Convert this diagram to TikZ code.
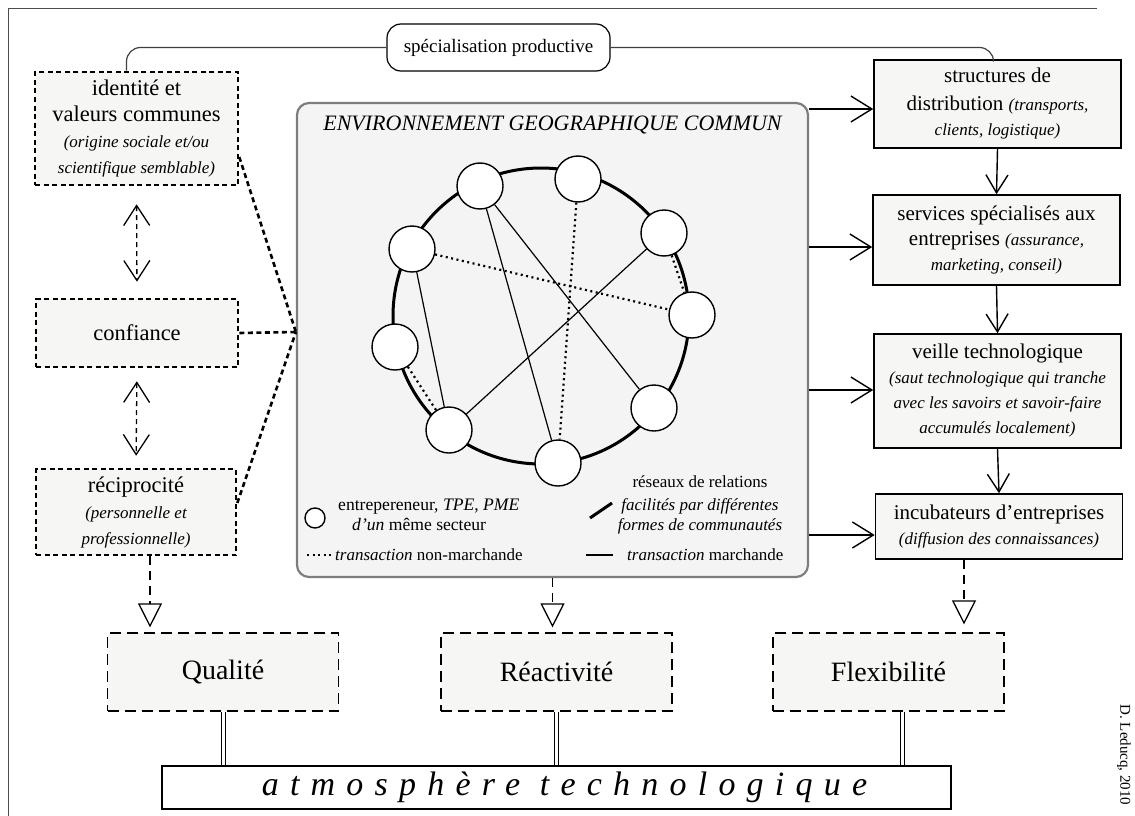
\documentclass[tikz,border=0pt]{standalone}
\usepackage{fontspec}
\setmainfont{Liberation Serif}
\usetikzlibrary{arrows.meta}
\definecolor{boxgray}{RGB}{246,246,244}
\definecolor{envgray}{RGB}{243,244,243}
\definecolor{envline}{RGB}{125,125,125}
\newcommand{\petit}[1]{{\itshape\fontsize{17}{20}\selectfont #1}}

\begin{document}
\begin{tikzpicture}[x=1pt, y=-1pt,
  every node/.style={font=\fontsize{21}{25}\selectfont},
  dotbox/.style={draw, fill=boxgray, line width=2.6pt, dash pattern=on 5pt off 3.5pt, align=center, minimum width=202pt, font=\fontsize{22.5}{26}\selectfont},
  solbox/.style={draw, fill=boxgray, line width=1.6pt, align=center, minimum width=247pt},
  dashbox/.style={draw, fill=boxgray, line width=1.2pt, dash pattern=on 11pt off 6pt, minimum width=231pt, minimum height=78pt, font=\fontsize{28}{30}\selectfont},
  firm/.style={circle, draw, fill=white, line width=1.4pt, minimum size=46pt, inner sep=0pt},
  legend/.style={inner sep=0pt, font=\fontsize{17}{20}\selectfont},
  sale/.style={line width=1.2pt},
  gift/.style={line width=2.2pt, dash pattern=on 2pt off 3.5pt},
  link/.style={line width=2.6pt, dash pattern=on 5pt off 3.5pt},
  bigarr/.style={line width=2.8pt, -{Straight Barb[length=21pt, width=26pt, line width=1.4pt]}},
  downarr/.style={line width=1.4pt, -{Straight Barb[length=18pt, width=22pt]}},
  dblarr/.style={line width=1.3pt, dash pattern=on 5pt off 4pt, {Straight Barb[length=20pt, width=26pt]}-{Straight Barb[length=20pt, width=26pt]}},
  outarr/.style={line width=1.3pt, dash pattern=on 9pt off 6pt, -{Triangle[open, length=24pt, width=24pt]}}]
\useasboundingbox (0,0) rectangle (1135,816);
\draw [line width=1pt, black!70] (8,816) -- (8,9) -- (1097,9);

\node [draw=envline, fill=envgray, line width=2.2pt, rounded corners=12pt, minimum width=511pt, minimum height=474pt] (env) at (552.5,340) {};
\node [font=\itshape\fontsize{22}{24}\selectfont] (envtitle) at (552.5,125) {ENVIRONNEMENT GEOGRAPHIQUE COMMUN};

\node [circle, draw, line width=3pt, minimum size=296pt, inner sep=0pt] (ring) at (541,316) {};
\node [firm] (c1) at (480,186) {};
\node [firm] (c2) at (578,179) {};
\node [firm] (c3) at (664,233) {};
\node [firm] (c4) at (692,315) {};
\node [firm] (c5) at (654,408) {};
\node [firm] (c6) at (558,463) {};
\node [firm] (c7) at (449,430) {};
\node [firm] (c8) at (395,347) {};
\node [firm] (c9) at (412,249) {};
\draw [sale] (c1) -- (c6);
\draw [sale] (c1) -- (c5);
\draw [sale] (c3) -- (c7);
\draw [sale] (c9) -- (c7);
\draw [gift] (c2) -- (c6);
\draw [gift] (c9) -- (c4);
\draw [gift] (c3) -- (c4);
\draw [gift] (c8) -- (c7);

\node [firm, minimum size=20pt] (lfirm) at (315,518) {};
\node [legend, anchor=west, align=left, font=\fontsize{17.6}{20}\selectfont] (lfirmtxt) at (338,515) {entrepereneur, \textit{TPE}, \textit{PME}\\\hspace*{14pt}\textit{d’un} même secteur};
\node [legend, anchor=west] (lgift) at (335,555) {\textit{transaction} non-marchande};
\draw [gift] ([xshift=-28pt]lgift.west) -- ([xshift=-3pt]lgift.west);
\node [legend, anchor=west] (lsale) at (627,555) {\textit{transaction} marchande};
\draw [sale] ([xshift=-41pt]lsale.west) -- ([xshift=-14pt]lsale.west);
\node [legend, align=center] (lnet) at (700,505) {réseaux de relations\\[3pt]\textit{facilités par différentes}\\\textit{formes de communautés}};
\coordinate (netA) at (590,518);
\coordinate (netB) at (612,503);
\draw [line width=3pt] (netA) -- (netB);

\node [dotbox, minimum width=203pt, minimum height=113pt] (idv) at (136.5,128.5) {identité et\\valeurs communes\\\petit{(origine sociale et/ou}\\\petit{scientifique semblable)}};
\node [dotbox, minimum height=68pt] (conf) at (137,333) {confiance};
\node [dotbox, minimum width=200pt, minimum height=86pt] (rec) at (136,512) {réciprocité\\\petit{(personnelle et}\\\petit{professionnelle)}};
\draw [dblarr, shorten <=18pt, shorten >=16pt] (idv.south) -- (conf.north);
\draw [dblarr, shorten <=13pt, shorten >=12pt] (conf.south) -- (rec.north);
\coordinate (hub) at ([yshift=8pt]env.west);
\draw [link] ([yshift=-28.5pt]idv.east) -- (hub);
\draw [link] (conf.east) -- (hub);
\draw [link] ([yshift=9pt]rec.east) -- (hub);

\node [draw, rounded corners=14pt, line width=1.2pt, fill=white, minimum width=223pt, minimum height=47pt, font=\fontsize{19}{22}\selectfont] (spec) at (498.5,47.5) {spécialisation productive};

\node [solbox, minimum height=88pt] (dist) at (997.5,104) {structures de\\[3pt]distribution \petit{(transports,}\\\petit{clients, logistique)}};
\node [solbox, minimum height=90pt] (serv) at (996.5,240) {services spécialisés aux\\entreprises \petit{(assurance,}\\\petit{marketing, conseil)}};
\node [solbox, minimum height=114pt] (veil) at (997.5,391) {veille technologique\\\petit{(saut technologique qui tranche}\\\petit{avec les savoirs et savoir-faire}\\\petit{accumulés localement)}};
\node [solbox, minimum height=65pt] (incu) at (999,526.5) {incubateurs d’entreprises\\\petit{(diffusion des connaissances)}};
\draw [downarr] (dist.south) -- (serv.north);
\draw [downarr] (serv.south) -- (veil.north);
\draw [downarr] (veil.south) -- (incu.north);
\coordinate (a1) at ([yshift=-5pt]dist.west);
\coordinate (a2) at ([yshift=-7pt]serv.west);
\coordinate (a3) at ([yshift=1pt]veil.west);
\coordinate (a4) at ([yshift=-8.5pt]incu.west);
\draw [bigarr] (env.east |- a1) -- (a1);
\draw [bigarr] (env.east |- a2) -- (a2);
\draw [bigarr] (env.east |- a3) -- (a3);
\draw [bigarr] (env.east |- a4) -- (a4);

\draw [line width=1.2pt, black!75, rounded corners=14pt] (spec.west) -| ([xshift=-10pt]idv.north);
\draw [line width=1.2pt, black!75, rounded corners=14pt] (spec.east) -| ([xshift=-4pt]dist.north);

\node [dashbox] (qual) at (223,672) {Qualité};
\node [dashbox] (reac) at (556.5,672) {Réactivité};
\node [dashbox] (flex) at (888.5,672) {Flexibilité};
\node [draw, line width=1.6pt, minimum width=789pt, minimum height=43pt, font=\itshape\fontsize{34}{36}\selectfont\addfontfeature{LetterSpace=33}] (atm) at (556.5,787.5) {\hspace*{16pt}atmosphère technologique};

\coordinate (r0) at ([xshift=14pt]rec.south);
\draw [outarr, shorten >=5pt] (r0) -- (r0 |- qual.north);
\draw [outarr, shorten >=5pt] (env.south) -- (env.south |- reac.north);
\coordinate (i0) at ([xshift=-35pt]incu.south);
\draw [outarr, shorten >=8pt] (i0) -- (i0 |- flex.north);

\draw [double, double distance=3pt, line width=1pt] (qual.south) -- (qual.south |- atm.north);
\draw [double, double distance=3pt, line width=1pt] (reac.south) -- (reac.south |- atm.north);
\coordinate (f0) at ([xshift=14pt]flex.south);
\draw [double, double distance=3pt, line width=1pt] (f0) -- (f0 |- atm.north);

\node [rotate=-90, font=\fontsize{15}{17}\selectfont] (credit) at (1124,755) {D. Leducq, 2010};
\end{tikzpicture}
\end{document}
